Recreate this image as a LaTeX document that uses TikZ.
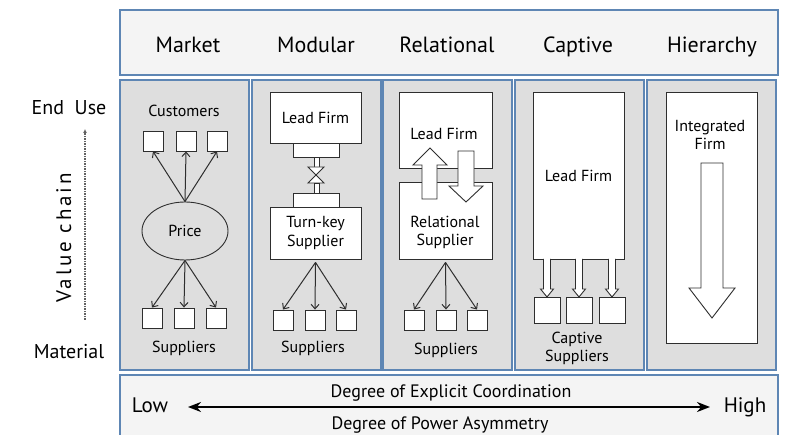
\documentclass[tikz,border=0pt]{standalone}
\usepackage{fontspec}
\setmainfont{PT Sans}
\usetikzlibrary{shapes, calc, arrows.meta}

\definecolor{frameblue}{HTML}{5E86B4}
\definecolor{panelgray}{HTML}{DEDEDE}
\definecolor{bandgray}{HTML}{F4F4F4}
\definecolor{inkgray}{HTML}{2E2E2E}

\begin{document}
\begin{tikzpicture}[x=1pt, y=-1pt,
	band/.style={draw=frameblue, fill=bandgray, line width=1.4pt},
	panel/.style={draw=frameblue, fill=panelgray, line width=1.4pt},
	firm/.style={draw=inkgray, fill=white, line width=0.9pt, inner sep=0pt},
	unit/.style={draw=inkgray, fill=white, line width=0.9pt, inner sep=0pt, minimum size=20pt},
	block/.style={draw=inkgray, fill=white, line width=0.9pt, line join=miter},
	link/.style={draw=inkgray, line width=1pt, -{Straight Barb[length=4.5pt,width=8pt]}},
	head/.style={font=\fontsize{22}{26}\selectfont, anchor=base},
	txt/.style={font=\fontsize{16}{18.5}\selectfont, align=center},
	side/.style={font=\fontsize{20}{24}\selectfont, anchor=base},
	scaletxt/.style={font=\fontsize{18}{22}\selectfont, anchor=base}]

	\useasboundingbox (0,0) rectangle (795,435);

	% bands and panels
	\draw[band] (120,10) rectangle (778,75);
	\draw[band] (120,375) rectangle (778,440);
	\foreach \x in {120,252,383,515,647}
		\draw[panel] (\x,80) rectangle ++(129,290);

	% governance types
	\node[head] (tmarket) at (188,53) {Market};
	\node[head] (tmodular) at (316,53) {Modular};
	\node[head] (trelational) at (447,53) {Relational};
	\node[head] (tcaptive) at (578,53) {Captive};
	\node[head] (thierarchy) at (712,53) {Hierarchy};

	% value chain axis
	\node[side] (enduse) at (69,115) {End\ \ Use};
	\node[side] (material) at (69,359) {Material};
	\coordinate (vcbot) at (85,320);
	\coordinate (vctop) at (85,129);
	\draw[dash pattern=on 1.5pt off 1pt, draw=inkgray!75, line width=1.1pt, -{Latex[length=4pt,width=4pt]}] (vcbot) -- (vctop);
	\node[rotate=90, anchor=base, font=\fontsize{21}{24}\selectfont\addfontfeatures{LetterSpace=14}] (vchain) at (71,238) {Value chain};

	% market
	\node[txt, anchor=base] (mcust) at (184,117) {Customers};
	\node[unit] (mc1) at (153,141) {};
	\node[unit] (mc2) at (186,141) {};
	\node[unit] (mc3) at (217,141) {};
	\node[draw=inkgray, fill=panelgray, line width=0.9pt, ellipse, minimum width=86pt, minimum height=58pt, txt] (price) at (185,231) {Price};
	\node[unit] (ms1) at (152,318) {};
	\node[unit] (ms2) at (184,318) {};
	\node[unit] (ms3) at (216,318) {};
	\draw[link] (price.north) -- (mc1.south);
	\draw[link] (price.north) -- (mc2.south);
	\draw[link] (price.north) -- (mc3.south);
	\draw[link] (price.south) -- (ms1.north);
	\draw[link] (price.south) -- (ms2.north);
	\draw[link] (price.south) -- (ms3.north);
	\node[txt, anchor=base] (msupp) at (184,353) {Suppliers};

	% modular
	\node[firm, minimum width=91pt, minimum height=51pt, txt] (modlead) at (315.5,117.5) {Lead Firm};
	\node[firm, minimum width=91pt, minimum height=52pt, txt] (turnkey) at (315.5,233) {Turn-key\\Supplier};
	\draw[block] (293,143) rectangle (339,157);
	\draw[block] (314,157) rectangle (319,167);
	\draw[block] (308,167) -- (324,167) -- (308,183) -- (324,183) -- cycle;
	\draw[block] (314,183) rectangle (319,193);
	\draw[block] (293,193) rectangle (339,207);
	\node[unit] (ds1) at (283,320) {};
	\node[unit] (ds2) at (315,320) {};
	\node[unit] (ds3) at (346,320) {};
	\draw[link] ([yshift=-3pt]turnkey.south) -- (ds1.north);
	\draw[link] ([yshift=-3pt]turnkey.south) -- (ds2.north);
	\draw[link] ([yshift=-3pt]turnkey.south) -- (ds3.north);
	\node[txt, anchor=base] (dsupp) at (313,353) {Suppliers};

	% relational
	\node[firm, minimum width=93pt, minimum height=76pt] (rellead) at (445.5,130) {};
	\node[firm, minimum width=93pt, minimum height=77pt] (relsupp) at (445.5,220.5) {};
	\node[txt, anchor=base] (trellead) at (444,140) {Lead Firm};
	\node[txt] (trelsupp) at (445,232.5) {Relational\\Supplier};
	\draw[block] (422,199) -- (422,165) -- (413,165) -- (430,148) -- (447,165) -- (437,165) -- (437,199) -- cycle;
	\draw[block] (458,151) -- (458,186) -- (449,186) -- (466,202) -- (483,186) -- (474,186) -- (474,151) -- cycle;
	\node[unit] (rs1) at (414,320) {};
	\node[unit] (rs2) at (446,320) {};
	\node[unit] (rs3) at (477,320) {};
	\draw[link] ([yshift=-3pt]relsupp.south) -- (rs1.north);
	\draw[link] ([yshift=-3pt]relsupp.south) -- (rs2.north);
	\draw[link] ([yshift=-3pt]relsupp.south) -- (rs3.north);
	\node[txt, anchor=base] (rsupp) at (446,355) {Suppliers};

	% captive
	\node[firm, minimum width=91pt, minimum height=167pt, txt] (caplead) at (578.5,175.5) {Lead Firm};
	\node[unit, minimum size=26pt] (cs1) at (547,310) {};
	\node[unit, minimum size=26pt] (cs2) at (579,310) {};
	\node[unit, minimum size=26pt] (cs3) at (612,310) {};
	\foreach \x in {547,579,612}
		\draw[block] ({\x-3.5},259) -- ({\x-3.5},289) -- ({\x-6.5},289) -- (\x,297) -- ({\x+6.5},289) -- ({\x+3.5},289) -- ({\x+3.5},259);
	\node[txt] (csupp) at (577,348.5) {Captive\\Suppliers};

	% hierarchy
	\node[firm, minimum width=91pt, minimum height=251pt] (intfirm) at (711.5,217.5) {};
	\node[txt] (tintfirm) at (710,135) {Integrated\\Firm};
	\draw[block] (701,163) -- (701,288) -- (689,288) -- (712,318) -- (735,288) -- (723,288) -- (723,163) -- cycle;

	% coordination scale
	\node[scaletxt, font=\fontsize{21}{24}\selectfont] (low) at (150,413) {Low};
	\node[scaletxt, font=\fontsize{21}{24}\selectfont] (high) at (745,413) {High};
	\coordinate (lowend) at (188,407);
	\coordinate (highend) at (710,407);
	\draw[line width=2.4pt, {Stealth[length=13pt,width=10pt]}-{Stealth[length=13pt,width=10pt]}] (lowend) -- (highend);
	\node[scaletxt] (coord) at (451,398) {Degree of Explicit Coordination};
	\node[scaletxt] (power) at (440,429) {Degree of Power Asymmetry};
\end{tikzpicture}
\end{document}
